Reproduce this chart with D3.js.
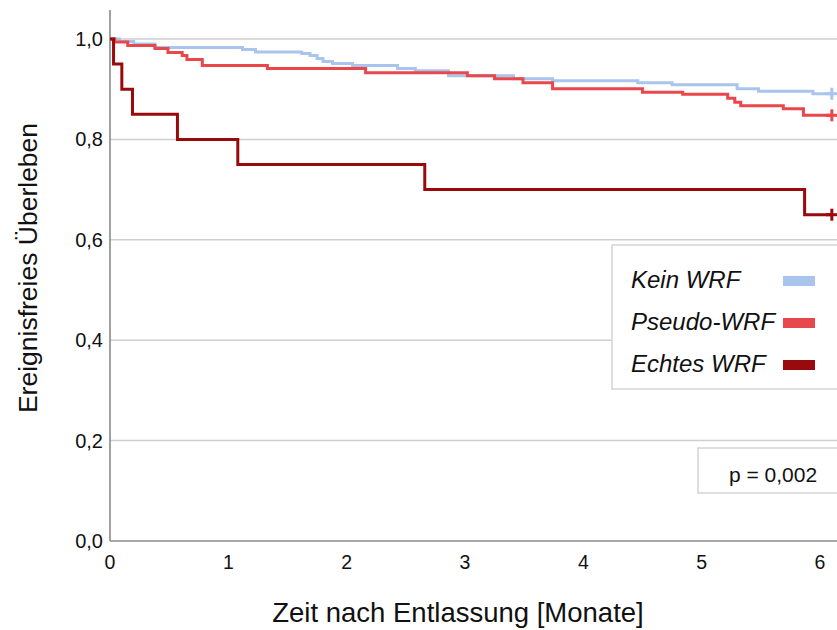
<!DOCTYPE html>
<html>
<head>
<meta charset="utf-8">
<script src="https://cdn.jsdelivr.net/npm/d3@7"></script>
<style>
  html, body { margin: 0; padding: 0; background: #fff; }
  svg { display: block; font-family: "Liberation Sans", Arial, sans-serif; }
</style>
</head>
<body>
<svg id="chart" width="837" height="630"></svg>
<script>
// ---- Data ----
const groups = ["Kein WRF", "Pseudo-WRF", "Echtes WRF"];
const groupColors = ["#a9c5ee", "#e8474b", "#990a0c"];

// Kaplan–Meier step points (time in months, survival)
const keinTimes = [0, 0.08, 0.2, 0.38, 1.12, 1.23, 1.62, 1.69, 1.75, 1.80, 1.88, 2.05, 2.43, 2.58, 2.86, 3.41, 3.74, 4.46, 4.75, 5.30, 5.48, 5.94, 6.10];
const keinSurv  = [1.0, 0.995, 0.99, 0.983, 0.979, 0.974, 0.971, 0.967, 0.961, 0.955, 0.951, 0.947, 0.941, 0.937, 0.927, 0.921, 0.917, 0.913, 0.909, 0.901, 0.896, 0.891, 0.891];

const pseudoTimes = [0, 0.04, 0.15, 0.38, 0.49, 0.61, 0.65, 0.78, 1.33, 2.16, 3.02, 3.25, 3.49, 3.74, 4.50, 4.84, 5.22, 5.28, 5.33, 5.69, 5.86, 6.10];
const pseudoSurv  = [1.0, 0.994, 0.987, 0.981, 0.973, 0.967, 0.959, 0.947, 0.941, 0.933, 0.927, 0.921, 0.913, 0.901, 0.894, 0.890, 0.882, 0.874, 0.867, 0.861, 0.848, 0.848];

const echtTimes = [0, 0.03, 0.10, 0.19, 0.57, 1.08, 2.66, 5.87, 6.10];
const echtSurv  = [1.0, 0.95, 0.90, 0.85, 0.80, 0.75, 0.70, 0.65, 0.65];

const censorTimes = [6.10, 6.10, 6.10];
const censorSurv  = [0.891, 0.848, 0.65];

const xTicks = [0, 1, 2, 3, 4, 5, 6];
const yTicks = [0, 0.2, 0.4, 0.6, 0.8, 1.0];
const yTickLabels = ["0,0", "0,2", "0,4", "0,6", "0,8", "1,0"];
const pValueText = "p = 0,002";
const xTitle = "Zeit nach Entlassung [Monate]";
const yTitle = "Ereignisfreies Überleben";

// ---- Scales ----
const svg = d3.select("#chart");
const x = d3.scaleLinear().domain([0, 6]).range([110, 820]);
const y = d3.scaleLinear().domain([0, 1]).range([541, 39]);
const plotRight = 837, plotTop = 10;

// gridlines
svg.append("g").selectAll("line").data(yTicks.filter(d => d > 0)).join("line")
  .attr("x1", x(0)).attr("x2", plotRight)
  .attr("y1", d => y(d)).attr("y2", d => y(d))
  .attr("stroke", "#cfcfcf").attr("stroke-width", 1.5);

// axes lines
svg.append("line").attr("x1", x(0)).attr("x2", x(0)).attr("y1", plotTop).attr("y2", y(0))
  .attr("stroke", "#8a8a8a").attr("stroke-width", 1.6);
svg.append("line").attr("x1", x(0)).attr("x2", plotRight).attr("y1", y(0)).attr("y2", y(0))
  .attr("stroke", "#8a8a8a").attr("stroke-width", 1.6);

// tick labels
svg.append("g").selectAll("text").data(yTicks).join("text")
  .attr("x", 103).attr("y", d => y(d) + 7)
  .attr("text-anchor", "end").attr("font-size", 20).attr("fill", "#111")
  .text((d, i) => yTickLabels[i]);
svg.append("g").selectAll("text").data(xTicks).join("text")
  .attr("x", d => x(d)).attr("y", 569)
  .attr("text-anchor", "middle").attr("font-size", 19.5).attr("fill", "#111")
  .text(d => d);

// titles
svg.append("text").attr("x", 458).attr("y", 622).attr("text-anchor", "middle")
  .attr("font-size", 27.5).attr("fill", "#111").text(xTitle);
svg.append("text").attr("transform", "translate(37,268) rotate(-90)")
  .attr("text-anchor", "middle").attr("font-size", 26.5).attr("fill", "#111").text(yTitle);

// curves
const line = d3.line().x(d => x(d[0])).y(d => y(d[1])).curve(d3.curveStepAfter);
const series = [
  d3.zip(keinTimes, keinSurv),
  d3.zip(pseudoTimes, pseudoSurv),
  d3.zip(echtTimes, echtSurv)
];
series.forEach((s, i) => {
  svg.append("path").datum(s).attr("d", line)
    .attr("fill", "none").attr("stroke", groupColors[i]).attr("stroke-width", 3)
    .attr("stroke-linejoin", "miter");
});
// censor marks
censorTimes.forEach((t, i) => {
  const cx = x(t), cy = y(censorSurv[i]);
  svg.append("line").attr("x1", cx).attr("x2", cx).attr("y1", cy - 6).attr("y2", cy + 6)
    .attr("stroke", groupColors[i]).attr("stroke-width", 3);
  svg.append("line").attr("x1", cx - 6).attr("x2", cx + 6).attr("y1", cy).attr("y2", cy)
    .attr("stroke", groupColors[i]).attr("stroke-width", 3);
});

// legend
const lg = svg.append("g");
lg.append("rect").attr("x", 612).attr("y", 245).attr("width", 240).attr("height", 144)
  .attr("fill", "#fff").attr("stroke", "#d4d4d4").attr("stroke-width", 1.5);
const legBase = [288, 330, 372];
groups.forEach((g, i) => {
  lg.append("text").attr("x", 631).attr("y", legBase[i]).attr("font-size", 24)
    .attr("font-style", "italic").attr("fill", "#111").text(g);
  lg.append("rect").attr("x", 783).attr("y", legBase[i] - 12).attr("width", 32).attr("height", 10)
    .attr("fill", groupColors[i]);
});

// p-value box
svg.append("rect").attr("x", 698).attr("y", 448).attr("width", 150).attr("height", 45)
  .attr("fill", "#fff").attr("stroke", "#d4d4d4").attr("stroke-width", 1.5);
svg.append("text").attr("x", 773).attr("y", 482).attr("text-anchor", "middle")
  .attr("font-size", 21).attr("fill", "#111").text(pValueText);
</script>
</body>
</html>
